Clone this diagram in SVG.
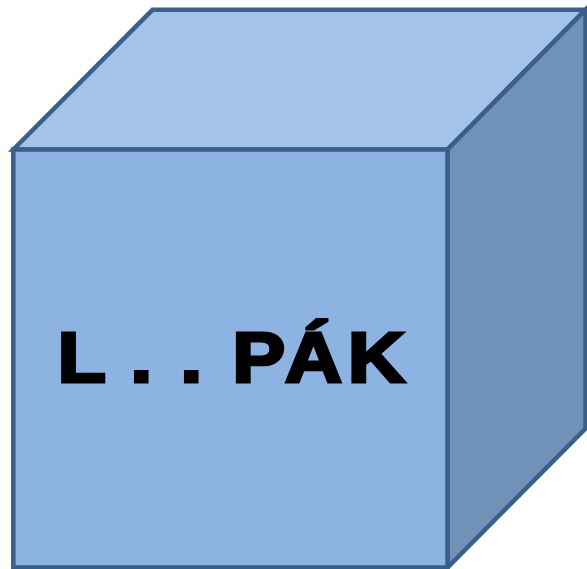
<svg xmlns="http://www.w3.org/2000/svg" width="587" height="569" viewBox="0 0 587 569">
  <style>
    .edge { stroke: #3A5F8B; stroke-width: 4.5; stroke-linejoin: miter; }
    .front { fill: #8DB3E2; }
    .top { fill: #A4C3E8; }
    .side { fill: #7092B8; }
    .label { font-family: "Liberation Sans", Arial, sans-serif; font-weight: bold; font-size: 71px; fill: #000; stroke: #000; stroke-width: 3; stroke-linejoin: miter; }
  </style>
  <rect width="587" height="569" fill="#FFFFFF"/>
  <g id="cube">
    <polygon class="top edge" points="13.3,149.5 152.5,9.8 585.5,9.8 447.5,149.5"/>
    <polygon class="side edge" points="447.5,149.5 585.5,9.8 585.5,428.5 447.5,567.5"/>
    <rect class="front edge" x="13.3" y="149.5" width="434.2" height="418"/>
    <text class="label" y="382.5" transform="scale(1.12,1)"><tspan x="51.4">L</tspan><tspan x="116.3">.</tspan><tspan x="161">.</tspan><tspan x="207.4">P</tspan><tspan x="254.2">Á</tspan><tspan x="310.5">K</tspan></text>
  </g>
  <g id="connectors"/>
</svg>
